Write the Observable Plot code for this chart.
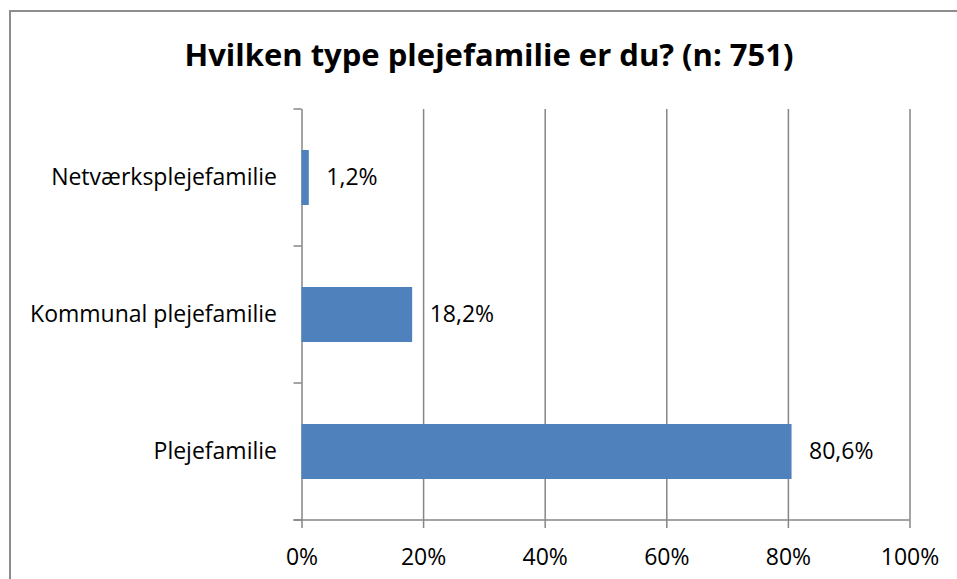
<!DOCTYPE html>
<html><head><meta charset="utf-8">
<script src="https://cdn.jsdelivr.net/npm/d3@7"></script>
<script src="https://cdn.jsdelivr.net/npm/@observablehq/plot@0.6"></script>
<style>
body{margin:0;background:#fff;}
#wrap{position:relative;width:957px;height:579px;overflow:hidden;font-family:"Open Sans",sans-serif;}
#frame{position:absolute;left:9px;top:10px;width:1100px;height:1100px;border:2px solid #8d8d8d;box-sizing:border-box;}
#title{position:absolute;left:0;top:39px;width:978px;text-align:center;font-weight:bold;font-size:31px;line-height:31px;color:#000;white-space:nowrap;}
#chart{position:absolute;left:0;top:0;}
</style>
</head><body>
<div id="wrap"><div id="frame"></div><div id="chart"></div><div id="title">Hvilken type plejefamilie er du? (n: 751)</div></div>
<script>
const categories = ["Netværksplejefamilie", "Kommunal plejefamilie", "Plejefamilie"];
const values = [1.2, 18.2, 80.6];
const xTicks = [0, 20, 40, 60, 80, 100];

const data = categories.map((c, i) => ({category: c, value: values[i]}));
const fmt = v => v.toFixed(1).replace(".", ",") + "%";
const grey = "#868686";

function axisFrame(index, scales, values, dims) {
  const x = scales.x;
  const g = d3.create("svg:g").attr("stroke", grey).attr("stroke-width", 1.5).attr("fill", "none");
  const top = dims.marginTop, bottom = dims.height - dims.marginBottom;
  const n = categories.length, step = (bottom - top) / n;
  const x0 = x(xTicks[0]), x1 = x(xTicks[xTicks.length - 1]);
  for (let i = 0; i <= n; i++) {
    const yy = top + i * step;
    g.append("line").attr("x1", x0 - 8).attr("x2", x0).attr("y1", yy).attr("y2", yy);
  }
  g.append("line").attr("x1", x0 - 8).attr("x2", x1).attr("y1", bottom).attr("y2", bottom);
  return g.node();
}

const plot = Plot.plot({
  width: 957, height: 579,
  marginLeft: 301.5, marginRight: 47.5, marginTop: 109, marginBottom: 59,
  style: {fontFamily: "Open Sans", fontSize: "23px", color: "#000", background: "transparent", overflow: "visible"},
  x: {domain: [0, 100], ticks: xTicks, tickFormat: d => d + "%", tickSize: 0, tickPadding: 28, label: null},
  y: {domain: categories, paddingInner: 0.6, paddingOuter: 0.3, tickSize: 0, tickPadding: 25, label: null},
  marks: [
    Plot.ruleX(xTicks, {stroke: grey, strokeWidth: 1.5, insetBottom: -8}),
    Plot.barX(data, {x: "value", y: "category", fill: "#4F81BD"}),
    Plot.text(data, {x: "value", y: "category", text: d => fmt(d.value), textAnchor: "start", dx: 17, fill: "#000", fontSize: 23}),
    axisFrame
  ]
});
document.getElementById("chart").appendChild(plot);
</script>
</body></html>
